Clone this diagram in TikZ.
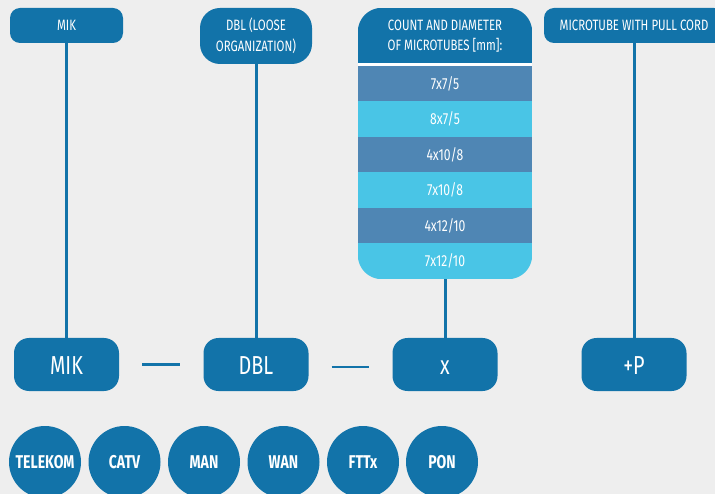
\documentclass[tikz,border=0pt]{standalone}
\usepackage{fontspec}
\setmainfont[FakeStretch=0.76]{Fira Sans}
\definecolor{dblue}{HTML}{1273A9}
\definecolor{rowdark}{HTML}{4F86B4}
\definecolor{rowlight}{HTML}{49C5E6}
\definecolor{bg}{HTML}{EEEEEE}
\begin{document}
\begin{tikzpicture}[x=1pt,y=-1pt,
  topbox/.style={fill=dblue,text=white,rounded corners=10pt,inner sep=0pt,align=center,font=\fontsize{15}{21}\selectfont},
  botbox/.style={fill=dblue,text=white,rounded corners=15pt,inner sep=0pt,minimum width=105pt,minimum height=53pt,text height=19pt,text depth=0pt,font=\fontsize{26}{30}\selectfont},
  rowtext/.style={text=white,inner sep=0pt,font=\fontsize{16}{20}\selectfont},
  tag/.style={circle,fill=dblue,text=white,inner sep=0pt,minimum size=72pt,font=\bfseries\fontsize{18.5}{20}\selectfont},
  vline/.style={draw=dblue,line width=3pt},
  dashline/.style={draw=dblue,line width=2.5pt,shorten <=23pt,shorten >=23pt}]
\useasboundingbox (0,0) rectangle (715,494);
\clip (0,0) rectangle (715,494);
\fill[bg] (0,0) rectangle (715,494);
% top boxes
\node[topbox,minimum width=113pt,minimum height=35pt] (mikT) at (66.5,25.5) {MIK};
\node[topbox,rounded corners=20pt,minimum width=112pt,minimum height=56pt] (dblT) at (256,36) {DBL (LOOSE\\ORGANIZATION)};
\node[topbox,minimum width=180pt,minimum height=35pt] (micT) at (634,25.5) {MICROTUBE WITH PULL CORD};
% count box
\node[inner sep=0pt,minimum width=174pt,minimum height=271pt] (cnt) at (445,143.5) {};
\begin{scope}
\clip[rounded corners=24pt] (cnt.north west) rectangle (cnt.south east);
\fill[dblue] (358,8) rectangle (532,63);
\fill[white] (358,63) rectangle (532,66);
\fill[rowdark] (358,66) rectangle (532,101.5);
\fill[rowlight] (358,101.5) rectangle (532,137);
\fill[rowdark] (358,137) rectangle (532,172.5);
\fill[rowlight] (358,172.5) rectangle (532,208);
\fill[rowdark] (358,208) rectangle (532,243.5);
\fill[rowlight] (358,243.5) rectangle (532,279);
\end{scope}
\node[text=white,inner sep=0pt,align=center,font=\fontsize{15}{20}\selectfont] (cntH) at (445,36) {COUNT AND DIAMETER\\OF MICROTUBES [mm]:};
\node[rowtext] (r1) at (445,83.75) {7x7/5};
\node[rowtext] (r2) at (445,119.25) {8x7/5};
\node[rowtext] (r3) at (445,154.75) {4x10/8};
\node[rowtext] (r4) at (445,190.25) {7x10/8};
\node[rowtext] (r5) at (445,225.75) {4x12/10};
\node[rowtext] (r6) at (445,261.25) {7x12/10};
% bottom boxes
\node[botbox] (mikB) at (66.5,364.5) {MIK};
\node[botbox] (dblB) at (256,364.5) {DBL};
\node[botbox] (xB) at (445,364.5) {x};
\node[botbox] (pB) at (634,364.5) {+P};
% connectors
\draw[vline] (mikT) -- (mikB);
\draw[vline] (dblT) -- (dblB);
\draw[vline] (cnt.south) -- (xB);
\draw[vline] (micT) -- (pB);
\draw[dashline] (mikB.east) -- (dblB.west);
\draw[dashline] ([yshift=-2.5pt]dblB.east) -- ([yshift=-2.5pt]xB.west);
% tags
\node[tag] (t1) at (45,462) {TELEKOM};
\node[tag] (t2) at (124.5,462) {CATV};
\node[tag] (t3) at (204,462) {MAN};
\node[tag] (t4) at (283.5,462) {WAN};
\node[tag] (t5) at (363,462) {FTTx};
\node[tag] (t6) at (442,462) {PON};
\end{tikzpicture}
\end{document}
